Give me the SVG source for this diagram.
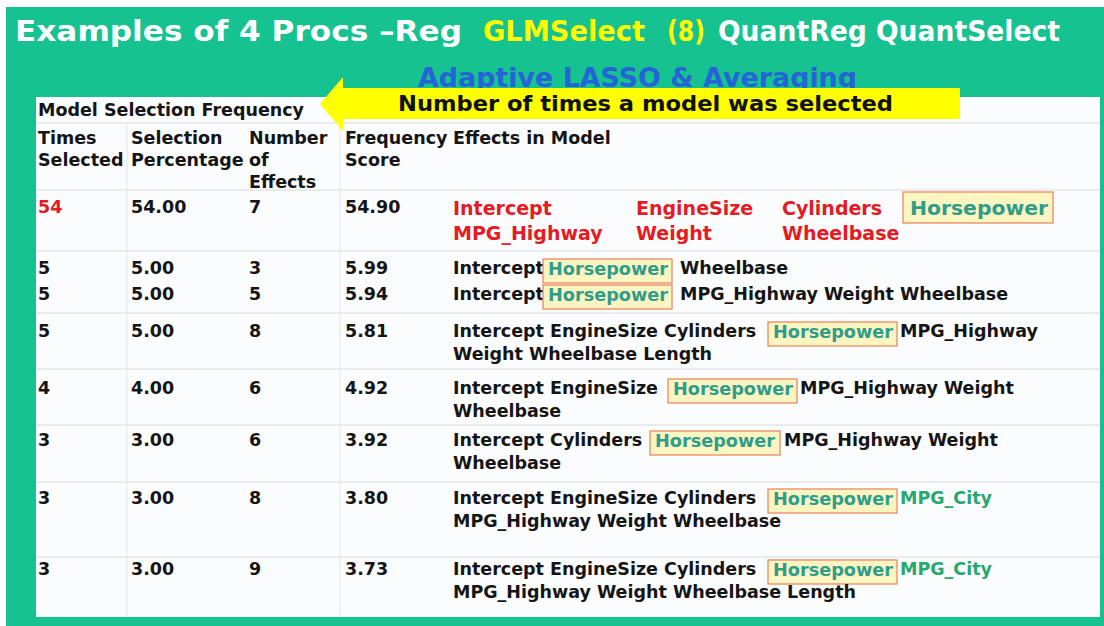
<svg xmlns="http://www.w3.org/2000/svg" width="1104" height="626" viewBox="0 0 1104 626">
<style>
text{font-family:"DejaVu Sans","Liberation Sans",sans-serif;font-weight:bold}
.t{font-size:17.5px;fill:#151515}
.red{fill:#e41b23}
.big{font-size:19px}
.hp{fill:#2f9d8a}
.city{fill:#26a86e}
.box{fill:#fbf5c2;stroke:#ea8a62;stroke-width:1.3}
.sep{stroke:#d9d9d9;stroke-width:1.2}
.vsep{stroke:#e6e6e6;stroke-width:1}
.title{font-size:28px}
</style>
<rect x="0" y="0" width="1104" height="626" fill="#ffffff"/>
<rect id="background" x="6" y="7" width="1098" height="619" fill="#16c28f"/>
<g id="title">
<text class="title" x="15" y="41" fill="#ffffff" textLength="447" lengthAdjust="spacingAndGlyphs">Examples of 4 Procs –Reg</text>
<text class="title" x="483" y="41" fill="#ffff00" textLength="162" lengthAdjust="spacingAndGlyphs">GLMSelect</text>
<text class="title" x="667" y="41" fill="#ffff00" textLength="38" lengthAdjust="spacingAndGlyphs">(8)</text>
<text class="title" x="718" y="41" fill="#ffffff" textLength="342" lengthAdjust="spacingAndGlyphs">QuantReg QuantSelect</text>
</g>
<g id="subtitle">
<text x="418" y="87" font-size="26" fill="#2563d8" textLength="439" lengthAdjust="spacingAndGlyphs">Adaptive LASSO &amp; Averaging</text>
</g>
<rect id="panel" x="36" y="97" width="1064" height="520" fill="#fbfcfd"/>
<g id="grid">
<line class="sep" x1="36" y1="123" x2="1100" y2="123"/>
<line class="sep" x1="36" y1="190" x2="1100" y2="190"/>
<line class="sep" x1="36" y1="251" x2="1100" y2="251"/>
<line class="sep" x1="36" y1="313" x2="1100" y2="313"/>
<line class="sep" x1="36" y1="369" x2="1100" y2="369"/>
<line class="sep" x1="36" y1="425" x2="1100" y2="425"/>
<line class="sep" x1="36" y1="482" x2="1100" y2="482"/>
<line class="sep" x1="36" y1="557" x2="1100" y2="557"/>
<line class="vsep" x1="127" y1="125" x2="127" y2="616"/>
<line class="vsep" x1="340" y1="125" x2="340" y2="616"/>
</g>
<g id="callout-arrow">
<polygon points="320,104 343,77 343,88 960,88 960,119 343,119 343,131" fill="#ffff00"/>
<text x="398" y="111" font-size="21" fill="#111111" textLength="495" lengthAdjust="spacingAndGlyphs">Number of times a model was selected</text>
</g>
<g id="table-title">
<text class="t" x="38" y="116">Model Selection Frequency</text>
</g>
<g id="header">
<text class="t" x="38" y="144">Times</text>
<text class="t" x="38" y="166">Selected</text>
<text class="t" x="131" y="144">Selection</text>
<text class="t" x="131" y="166">Percentage</text>
<text class="t" x="249" y="144">Number</text>
<text class="t" x="249" y="166">of</text>
<text class="t" x="249" y="188">Effects</text>
<text class="t" x="345" y="144">Frequency</text>
<text class="t" x="345" y="166">Score</text>
<text class="t" x="453" y="144">Effects in Model</text>
</g>
<g id="row-1">
<text class="t red" x="38" y="213">54</text>
<text class="t" x="131" y="213">54.00</text>
<text class="t" x="249" y="213">7</text>
<text class="t" x="345" y="213">54.90</text>
<text class="t red big" x="453" y="215">Intercept</text>
<text class="t red big" x="636" y="215">EngineSize</text>
<text class="t red big" x="782" y="215">Cylinders</text>
<rect class="box" x="903" y="192" width="150" height="31"/>
<text class="t hp big" x="910" y="215" textLength="138" lengthAdjust="spacingAndGlyphs">Horsepower</text>
<text class="t red big" x="453" y="240">MPG_Highway</text>
<text class="t red big" x="636" y="240">Weight</text>
<text class="t red big" x="782" y="240">Wheelbase</text>
</g>
<g id="row-2">
<text class="t" x="38" y="274">5</text>
<text class="t" x="131" y="274">5.00</text>
<text class="t" x="249" y="274">3</text>
<text class="t" x="345" y="274">5.99</text>
<text class="t" x="453" y="274">Intercept</text>
<rect class="box" x="543" y="259" width="129" height="24"/>
<text class="t hp" x="548" y="275" textLength="120" lengthAdjust="spacingAndGlyphs">Horsepower</text>
<text class="t" x="680" y="274">Wheelbase</text>
</g>
<g id="row-3">
<text class="t" x="38" y="300">5</text>
<text class="t" x="131" y="300">5.00</text>
<text class="t" x="249" y="300">5</text>
<text class="t" x="345" y="300">5.94</text>
<text class="t" x="453" y="300">Intercept</text>
<rect class="box" x="543" y="285" width="129" height="24"/>
<text class="t hp" x="548" y="301" textLength="120" lengthAdjust="spacingAndGlyphs">Horsepower</text>
<text class="t" x="680" y="300">MPG_Highway Weight Wheelbase</text>
</g>
<g id="row-4">
<text class="t" x="38" y="337">5</text>
<text class="t" x="131" y="337">5.00</text>
<text class="t" x="249" y="337">8</text>
<text class="t" x="345" y="337">5.81</text>
<text class="t" x="453" y="337">Intercept EngineSize Cylinders</text>
<rect class="box" x="768" y="322" width="129" height="24"/>
<text class="t hp" x="773" y="338" textLength="120" lengthAdjust="spacingAndGlyphs">Horsepower</text>
<text class="t" x="900" y="337">MPG_Highway</text>
<text class="t" x="453" y="360">Weight Wheelbase Length</text>
</g>
<g id="row-5">
<text class="t" x="38" y="394">4</text>
<text class="t" x="131" y="394">4.00</text>
<text class="t" x="249" y="394">6</text>
<text class="t" x="345" y="394">4.92</text>
<text class="t" x="453" y="394">Intercept EngineSize</text>
<rect class="box" x="668" y="379" width="129" height="24"/>
<text class="t hp" x="673" y="395" textLength="120" lengthAdjust="spacingAndGlyphs">Horsepower</text>
<text class="t" x="800" y="394">MPG_Highway Weight</text>
<text class="t" x="453" y="417">Wheelbase</text>
</g>
<g id="row-6">
<text class="t" x="38" y="446">3</text>
<text class="t" x="131" y="446">3.00</text>
<text class="t" x="249" y="446">6</text>
<text class="t" x="345" y="446">3.92</text>
<text class="t" x="453" y="446">Intercept Cylinders</text>
<rect class="box" x="650" y="431" width="130" height="24"/>
<text class="t hp" x="655" y="447" textLength="120" lengthAdjust="spacingAndGlyphs">Horsepower</text>
<text class="t" x="784" y="446">MPG_Highway Weight</text>
<text class="t" x="453" y="469">Wheelbase</text>
</g>
<g id="row-7">
<text class="t" x="38" y="504">3</text>
<text class="t" x="131" y="504">3.00</text>
<text class="t" x="249" y="504">8</text>
<text class="t" x="345" y="504">3.80</text>
<text class="t" x="453" y="504">Intercept EngineSize Cylinders</text>
<rect class="box" x="768" y="489" width="129" height="24"/>
<text class="t hp" x="773" y="505" textLength="120" lengthAdjust="spacingAndGlyphs">Horsepower</text>
<text class="t city" x="900" y="504">MPG_City</text>
<text class="t" x="453" y="527">MPG_Highway Weight Wheelbase</text>
</g>
<g id="row-8">
<text class="t" x="38" y="575">3</text>
<text class="t" x="131" y="575">3.00</text>
<text class="t" x="249" y="575">9</text>
<text class="t" x="345" y="575">3.73</text>
<text class="t" x="453" y="575">Intercept EngineSize Cylinders</text>
<rect class="box" x="768" y="560" width="129" height="24"/>
<text class="t hp" x="773" y="576" textLength="120" lengthAdjust="spacingAndGlyphs">Horsepower</text>
<text class="t city" x="900" y="575">MPG_City</text>
<text class="t" x="453" y="598">MPG_Highway Weight Wheelbase Length</text>
</g>
</svg>
